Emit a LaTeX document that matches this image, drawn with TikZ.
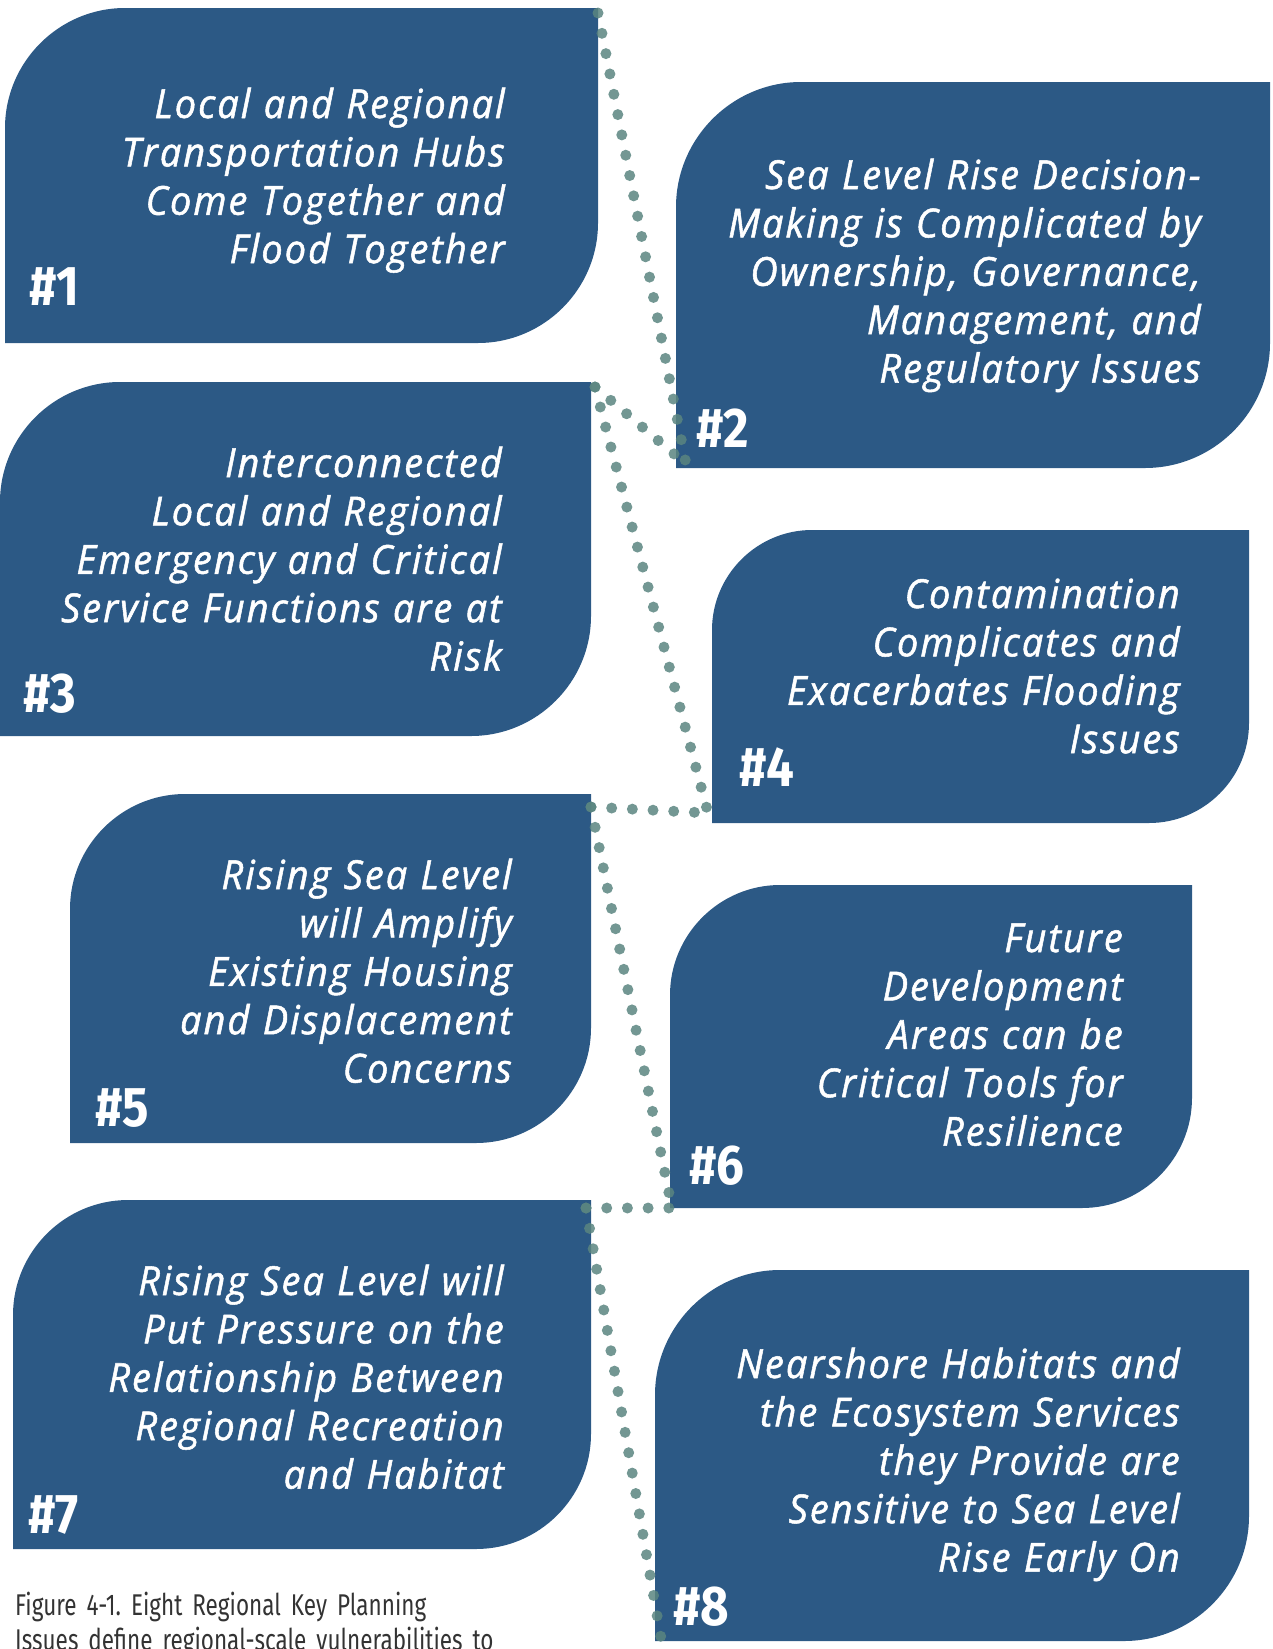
\documentclass[tikz,border=0pt]{standalone}
\usepackage{fontspec}
\usetikzlibrary{calc}
\setmainfont{Open Sans}
\newfontfamily\boxfont{Open Sans}[FakeStretch=0.95, FakeBold=1.3, LetterSpace=5]
\newfontfamily\numfont{Fira Sans}[FakeStretch=0.88]
\newfontfamily\capfont{Fira Sans}[FakeStretch=0.75]
\definecolor{boxblue}{HTML}{2C5985}
\definecolor{dotc}{HTML}{5A8580}
\definecolor{capgray}{HTML}{333333}
\newcommand\kpbox[6]{% L T R B radius name
  \fill[boxblue] (#1,#4) -- (#1,#2+#5) .. controls (#1,#2+0.45*#5) and (#1+0.45*#5,#2) .. (#1+#5,#2)
    -- (#3,#2) -- (#3,#4-#5) .. controls (#3,#4-0.45*#5) and (#3-0.45*#5,#4) .. (#3-#5,#4) -- cycle;
  \coordinate (#6nw) at (#1,#2);
  \coordinate (#6ne) at (#3,#2);
  \coordinate (#6sw) at (#1,#4);
}
\tikzset{
  boxtext/.style={text=white, inner sep=0pt, anchor=base east, align=right, text width=600pt,
    font=\boxfont\itshape\fontsize{40}{48.4}\selectfont},
  numtext/.style={text=white, inner sep=0pt, anchor=base west,
    font=\numfont\bfseries\fontsize{56}{56}\selectfont},
  dotline/.style={dotc, opacity=0.85, line width=11pt, line cap=round, dash pattern=on 0pt off 20.7pt},
  captext/.style={text=capgray, inner sep=0pt, anchor=base west, align=left, text width=600pt,
    font=\capfont\frenchspacing\fontsize{30}{35}\selectfont}
}
\begin{document}
\begin{tikzpicture}[x=1pt,y=-1pt]
\useasboundingbox (0,0) rectangle (1273,1649);
\kpbox{5}{8}{598}{343}{120}{b1}
\kpbox{676}{82}{1270}{468}{125}{b2}
\kpbox{0}{382}{591}{736}{120}{b3}
\kpbox{712}{530}{1249}{823}{100}{b4}
\kpbox{70}{794}{591}{1143}{115}{b5}
\kpbox{670}{885}{1192}{1208}{110}{b6}
\kpbox{13}{1200}{591}{1549}{115}{b7}
\kpbox{655}{1270}{1249}{1641}{125}{b8}

\node[boxtext] (t1) at (505,118) {Local and Regional\\Transportation Hubs\\Come Together and\\Flood Together};
\node[boxtext] (t2) at (1201,189) {Sea Level Rise Decision-\\Making is Complicated by\\Ownership, Governance,\\Management, and\\Regulatory Issues};
\node[boxtext] (t3) at (502,477) {Interconnected\\Local and Regional\\Emergency and Critical\\Service Functions are at\\Risk};
\node[boxtext] (t4) at (1180,608) {Contamination\\Complicates and\\Exacerbates Flooding\\Issues};
\node[boxtext] (t5) at (512,889) {Rising Sea Level\\will Amplify\\Existing Housing\\and Displacement\\Concerns};
\node[boxtext] (t6) at (1123,952) {Future\\Development\\Areas can be\\Critical Tools for\\Resilience};
\node[boxtext] (t7) at (504,1295) {Rising Sea Level will\\Put Pressure on the\\Relationship Between\\Regional Recreation\\and Habitat};
\node[boxtext] (t8) at (1180,1378) {Nearshore Habitats and\\the Ecosystem Services\\they Provide are\\Sensitive to Sea Level\\Rise Early On};

\node[numtext] (n1) at (29,305) {\#1};
\node[numtext] (n2) at (696,447) {\#2};
\node[numtext] (n3) at (23,712) {\#3};
\node[numtext] (n4) at (739,786) {\#4};
\node[numtext] (n5) at (95,1126) {\#5};
\node[numtext] (n6) at (689,1184) {\#6};
\node[numtext] (n7) at (28,1533) {\#7};
\node[numtext] (n8) at (673,1625) {\#8};

\coordinate (d1a) at ($(b1ne)+(0,5)$);
\coordinate (d1b) at ($(b2sw)+(10,-4)$);
\coordinate (d3a) at ($(b3ne)+(4,5)$);
\coordinate (d4b) at ($(b4sw)+(-4,-10)$);
\coordinate (d5a) at ($(b5ne)+(0,13)$);
\coordinate (d6b) at ($(b6sw)+(2,0)$);
\coordinate (d7a) at ($(b7ne)+(-5,8)$);
\coordinate (d8b) at ($(b8sw)+(6,-3)$);

\draw[dotline] (d1a) -- (d1b);
\draw[dotline] (d3a) -- (d1b);
\draw[dotline] (d3a) -- (d4b);
\draw[dotline] (d5a) -- (d4b);
\draw[dotline] (d5a) -- (d6b);
\draw[dotline] (d7a) -- (d6b);
\draw[dotline] (d7a) -- (d8b);

\node[captext] (cap) at (15,1615) {Figure 4-1. Eight Regional Key Planning\\Issues define regional-scale vulnerabilities to};
\end{tikzpicture}
\end{document}
